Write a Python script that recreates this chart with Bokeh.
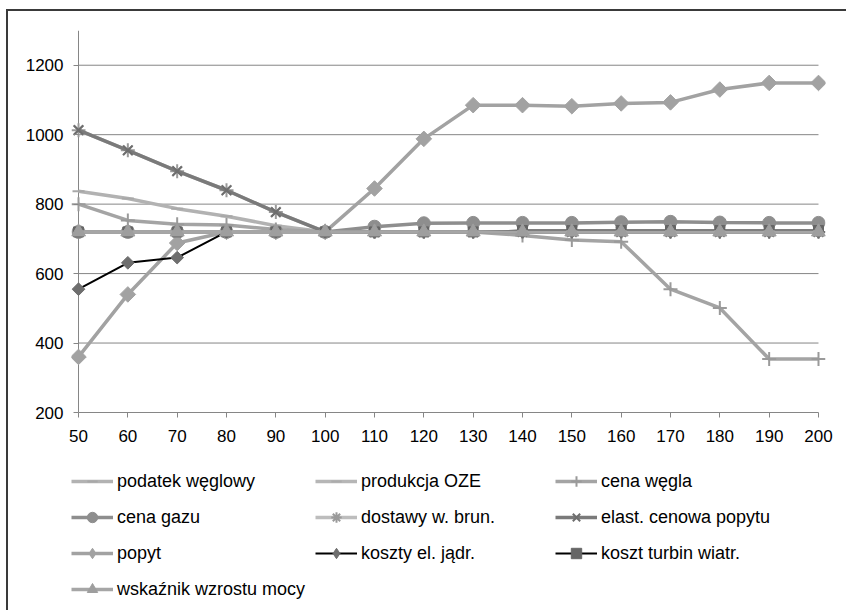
import math
from bokeh.plotting import figure
from bokeh.layouts import column
from bokeh.models import ColumnDataSource, FixedTicker, Range1d, Legend, LegendItem
from bokeh.embed import file_html
from bokeh.resources import INLINE

# scenario parameter (% of base value)
x = [50, 60, 70, 80, 90, 100, 110, 120, 130, 140, 150, 160, 170, 180, 190, 200]

podatek_weglowy = [837, 816, 787, 765, 738, 720, 720, 720, 720, 720, 720, 720, 720, 720, 720, 720]
produkcja_oze = [720, 720, 720, 720, 720, 720, 720, 720, 720, 720, 720, 720, 720, 720, 720, 720]
cena_wegla = [800, 753, 742, 740, 727, 720, 720, 720, 720, 710, 697, 692, 555, 501, 354, 354]
cena_gazu = [720, 720, 720, 720, 720, 720, 735, 745, 746, 746, 746, 748, 749, 747, 746, 746]
dostawy_brun = [1013, 955, 895, 840, 777, 720, 720, 720, 720, 720, 720, 720, 720, 720, 720, 720]
elast_popytu = [1013, 955, 895, 840, 777, 720, 720, 720, 720, 720, 720, 720, 720, 720, 720, 720]
popyt = [360, 540, 688, 720, 720, 720, 845, 988, 1085, 1085, 1082, 1090, 1093, 1130, 1149, 1149]
koszty_jadr = [555, 631, 646, 720, 720, 720, 720, 720, 720, 720, 720, 720, 720, 720, 720, 720]
koszt_turbin = [720, 720, 720, 720, 720, 720, 720, 720, 720, 724, 724, 724, 724, 724, 724, 724]
wskaznik_mocy = [720, 720, 720, 720, 720, 720, 720, 720, 720, 720, 720, 720, 720, 720, 720, 720]

y_ticks = [200, 400, 600, 800, 1000, 1200]
y_top = 1300

# (label, values, line colour, line width, marker, marker colour, marker size, angle)
D45 = math.pi / 4
series = [
    ("podatek węglowy", podatek_weglowy, "#b2b2b2", 3.5, "dash", "#a8a8a8", 12, 0),
    ("produkcja OZE", produkcja_oze, "#b6b6b6", 3.5, "dash", "#acacac", 12, 0),
    ("cena węgla", cena_wegla, "#a4a4a4", 3.5, "cross", "#9a9a9a", 14, 0),
    ("cena gazu", cena_gazu, "#8e8e8e", 3.5, "circle", "#8e8e8e", 13, 0),
    ("dostawy w. brun.", dostawy_brun, "#bdbdbd", 3.5, "asterisk", "#9a9a9a", 14, 0),
    ("elast. cenowa popytu", elast_popytu, "#7a7a7a", 3.5, "x", "#6e6e6e", 13, 0),
    ("popyt", popyt, "#a2a2a2", 3.5, "square", "#a2a2a2", 11, D45),
    ("koszty el. jądr.", koszty_jadr, "#000000", 2, "square", "#6e6e6e", 9, D45),
    ("koszt turbin wiatr.", koszt_turbin, "#000000", 2, "square", "#666666", 10, 0),
    ("wskaźnik wzrostu mocy", wskaznik_mocy, "#a6a6a6", 3.5, "triangle", "#9e9e9e", 14, 0),
]

FONT = "Liberation Sans"
AX = "#868686"


def draw_series(fig, source, xcol, ycol, spec, swatch=False):
    label, vals, lc, lw, mk, mc, ms, ang = spec
    if swatch and ang:
        # legend swatches are drawn unrotated, so use the upright diamond there
        mk, ang = "diamond", 0
    ln = fig.line(xcol, ycol, source=source, line_color=lc, line_width=lw)
    if mk in ("cross", "x", "asterisk", "dash"):
        sc = fig.scatter(xcol, ycol, source=source, marker=mk, size=ms, angle=ang,
                         line_color=mc, line_width=2, fill_color=None)
    else:
        sc = fig.scatter(xcol, ycol, source=source, marker=mk, size=ms, angle=ang,
                         line_color=mc, fill_color=mc)
    return [ln, sc]


# ---- chart ----
src = ColumnDataSource(data={"x": x, **{f"s{i}": s[1] for i, s in enumerate(series)}})

p = figure(
    width=840, height=444,
    x_range=Range1d(48.58, 201.42), y_range=Range1d(y_ticks[0], y_top),
    output_backend="svg", toolbar_location=None,
    min_border_left=63, min_border_right=23, min_border_top=19, min_border_bottom=43,
)
p.outline_line_color = None
p.xgrid.visible = False
p.ygrid.visible = False

# horizontal gridlines and the value-axis line, spanning the category range
grid_y = y_ticks[1:]
p.segment(x0=[x[0]] * len(grid_y), x1=[x[-1]] * len(grid_y), y0=grid_y, y1=grid_y,
          line_color=AX, line_width=1)
p.segment(x0=[x[0]], x1=[x[0]], y0=[y_ticks[0]], y1=[y_top], line_color=AX, line_width=1)

for i, spec in enumerate(series):
    draw_series(p, src, "x", f"s{i}", spec)

xa = p.xaxis[0]
xa.ticker = FixedTicker(ticks=x)
xa.bounds = (x[0], x[-1])
xa.axis_line_color = AX
xa.major_tick_line_color = AX
xa.major_tick_in = 0
xa.major_tick_out = 5
xa.minor_tick_line_color = None
xa.major_label_text_font = FONT
xa.major_label_text_font_size = "17px"
xa.major_label_text_color = "#000000"
xa.major_label_standoff = 12

ya = p.yaxis[0]
ya.ticker = FixedTicker(ticks=y_ticks)
ya.axis_line_color = None
ya.major_tick_line_color = AX
ya.major_tick_in = 7
ya.major_tick_out = -2
ya.minor_tick_line_color = None
ya.major_label_text_font = FONT
ya.major_label_text_font_size = "17px"
ya.major_label_text_color = "#000000"
ya.major_label_standoff = 8

# ---- legend strip (three columns); series are out of this strip's view range ----
lg = figure(
    width=840, height=157, x_range=Range1d(0, 1), y_range=Range1d(0, 1),
    x_axis_type=None, y_axis_type=None,
    output_backend="svg", toolbar_location=None,
    min_border_left=0, min_border_right=0, min_border_top=0, min_border_bottom=0,
)
lg.outline_line_color = None
lg.grid.visible = False

swatches = [(spec[0], draw_series(lg, src, "x", f"s{i}", spec, swatch=True))
            for i, spec in enumerate(series)]

columns = [[0, 3, 6, 9], [1, 4, 7], [2, 5, 8]]
col_x = [0, 244, 484]
ROW_H, GAP, TOP = 26, 10, 13
for cx, idxs in zip(col_x, columns):
    n = len(idxs)
    h = n * ROW_H + (n - 1) * GAP
    leg = Legend(
        items=[LegendItem(label=swatches[k][0], renderers=swatches[k][1]) for k in idxs],
        location=(cx, 157 - TOP - h), orientation="vertical",
        glyph_width=42, glyph_height=ROW_H, label_height=ROW_H,
        label_standoff=4, spacing=GAP, padding=0, margin=0,
        border_line_color=None, background_fill_alpha=0,
        label_text_font=FONT, label_text_font_size="18px", label_text_color="#000000",
    )
    lg.add_layout(leg, "center")

page = column(p, lg, spacing=0, margin=(11, 0, 0, 8),
              styles={"box-shadow": "-2px -2px 0 0 #3a3a3a"})

open("out.html", "w").write(file_html(page, INLINE))
